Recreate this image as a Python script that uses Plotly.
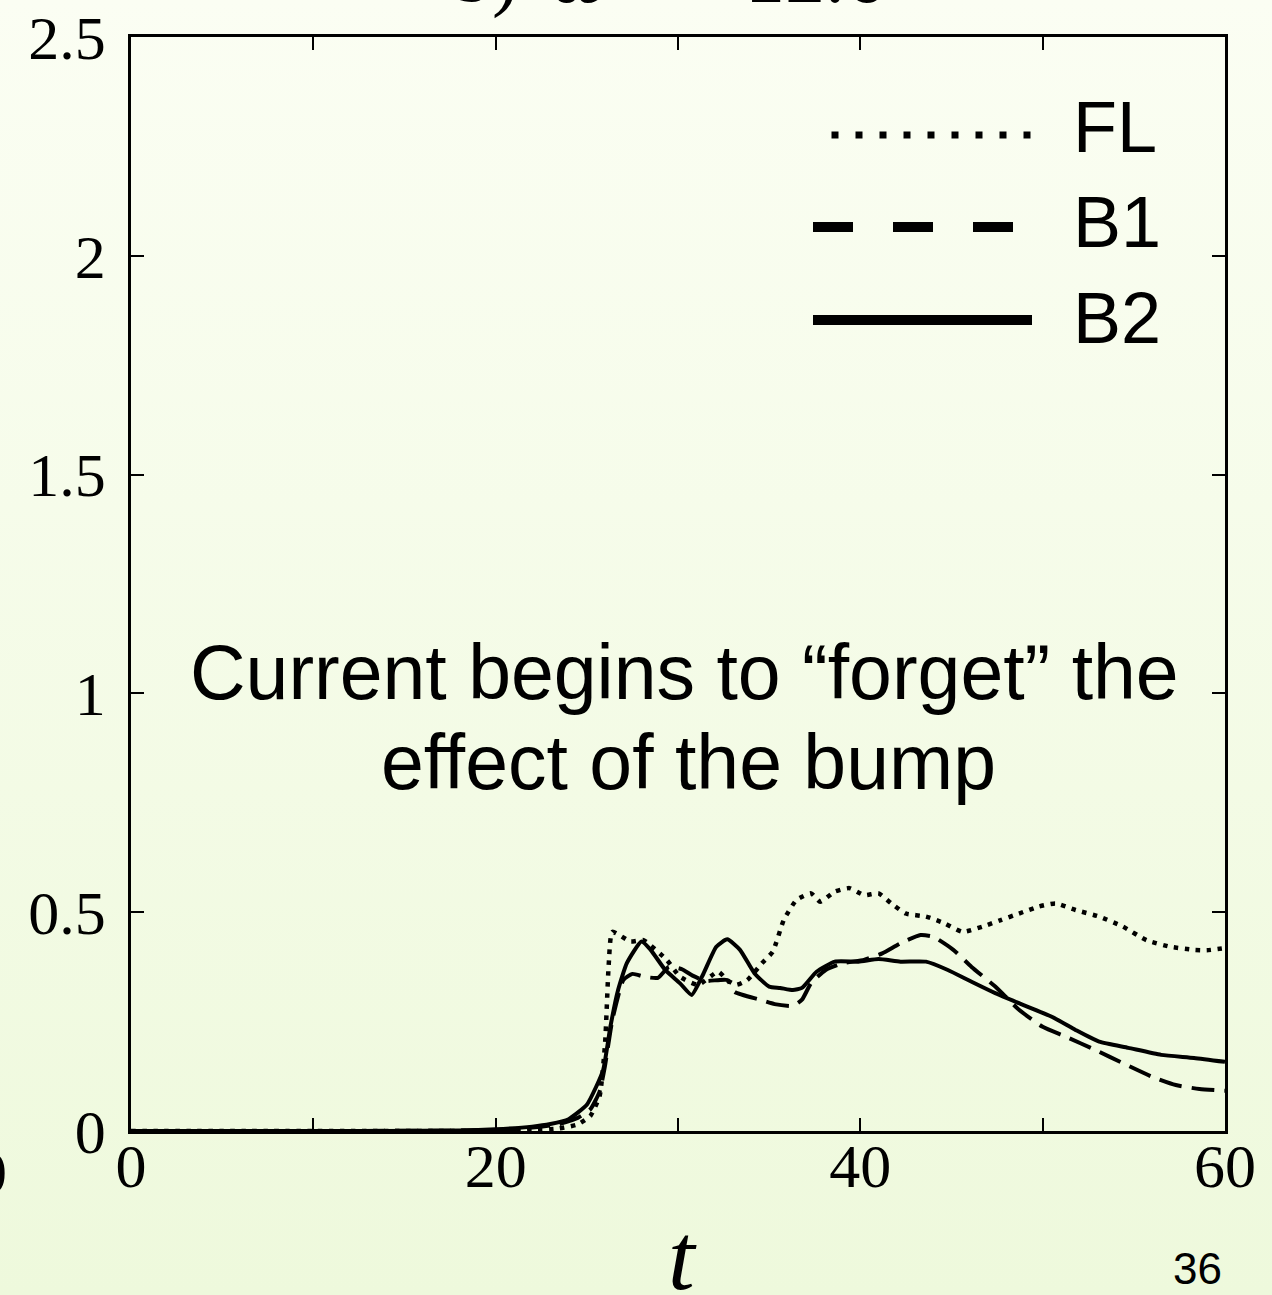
import base64
import plotly.graph_objects as go

# ---------------- data ----------------
t_fl = [0, 10, 20, 22, 23.5, 24.5, 25.2, 25.7, 26.0, 26.2, 26.4, 27.4, 28.1, 29.4, 30.1, 31.1,
        32.2, 32.7, 33.2, 33.8, 34.6, 35.2, 35.8, 36.5, 37.3, 37.8, 38.6, 39.4, 40.2, 41.0, 41.7,
        42.5, 43.6, 44.6, 45.6, 46.7, 47.7, 48.7, 49.8, 50.7, 51.8, 53.1, 54.4, 55.7, 57.0,
        58.3, 59.0, 60]
v_fl = [0, 0, 0, 0.002, 0.006, 0.015, 0.035, 0.08, 0.2, 0.38, 0.455, 0.433, 0.436, 0.39, 0.353, 0.334,
        0.364, 0.345, 0.334, 0.345, 0.383, 0.41, 0.482, 0.528, 0.543, 0.524, 0.547, 0.555, 0.539, 0.543, 0.52,
        0.497, 0.49, 0.475, 0.455, 0.467, 0.482, 0.497, 0.513, 0.52, 0.505, 0.49, 0.467, 0.436, 0.421,
        0.414, 0.413, 0.418]

t_b1 = [0, 10, 20, 22, 23.5, 24.5, 25.2, 25.7, 26.0, 26.4, 27.0, 27.5, 28.2, 28.9, 29.5, 30.2,
        30.8, 31.5, 32.7, 33.1, 34.5, 35.3, 36.3, 36.8, 37.3, 38.1, 39.1, 40.2, 41.2, 42.2, 43.3, 44.0,
        45.1, 46.1, 47.4, 48.7, 50.0, 51.3, 52.9, 54.4, 56.0, 57.3, 58.6, 60]
v_b1 = [0, 0, 0.002, 0.008, 0.016, 0.03, 0.05, 0.09, 0.15, 0.254, 0.345, 0.359, 0.352, 0.35, 0.375, 0.37,
        0.355, 0.343, 0.345, 0.318, 0.3, 0.29, 0.286, 0.3, 0.338, 0.368, 0.384, 0.391, 0.406, 0.429, 0.448, 0.444,
        0.414, 0.375, 0.33, 0.277, 0.238, 0.215, 0.185, 0.155, 0.124, 0.105, 0.096, 0.092]

t_b2 = [0, 10, 18, 20, 22, 23, 24, 25, 25.5, 25.9, 26.3, 26.7, 27.2, 28.0, 28.5, 29.3, 30.1, 30.75,
        31.4, 32.1, 32.7, 33.4, 34.2, 35.0, 35.6, 36.3, 36.8, 37.6, 38.6, 39.9, 41.0, 42.2, 43.6, 44.8,
        46.1, 47.4, 48.7, 50.5, 51.8, 53.1, 54.7, 56.5, 58.3, 60]
v_b2 = [0, 0, 0.001, 0.004, 0.01, 0.016, 0.027, 0.06, 0.1, 0.14, 0.24, 0.32, 0.384, 0.433, 0.414, 0.368,
        0.338, 0.311, 0.36, 0.421, 0.438, 0.414, 0.36, 0.33, 0.327, 0.322, 0.327, 0.364, 0.387, 0.387, 0.393,
        0.387, 0.387, 0.368, 0.341, 0.315, 0.292, 0.261, 0.231, 0.204, 0.19, 0.174, 0.167, 0.158]

x_tickvals = [0, 10, 20, 30, 40, 50, 60]
x_ticktext = ["0", "", "20", "", "40", "", "60"]
y_tickvals = [0, 0.5, 1, 1.5, 2, 2.5]
y_ticktext = ["0", "0.5", "1", "1.5", "2", "2.5"]

legend_names = ["FL", "B1", "B2"]
note_lines = ["Current begins to \u201cforget\u201d the", "effect of the bump"]
page_number = "36"

# ---------------- layout geometry ----------------
W, H = 1272, 1295
L, R, T, B = 131, 47, 37, 164
PW, PH = W - L - R, H - T - B


def px(x):
    return (x - L) / PW


def py(y):
    return (H - B - y) / PH


SERIF = "Liberation Serif, Times New Roman, serif"
SANS = "Liberation Sans, Arial, Helvetica, sans-serif"

fig = go.Figure()
fig.add_trace(go.Scatter(x=t_fl, y=v_fl, mode="lines", name=legend_names[0],
                         line=dict(color="black", width=4.5, dash="4.5px,6.5px", shape="spline", smoothing=0.5)))
fig.add_trace(go.Scatter(x=t_b1, y=v_b1, mode="lines", name=legend_names[1],
                         line=dict(color="black", width=4, dash="23px,10px", shape="spline", smoothing=0.5)))
fig.add_trace(go.Scatter(x=t_b2, y=v_b2, mode="lines", name=legend_names[2],
                         line=dict(color="black", width=4, shape="spline", smoothing=0.5)))

# background gradient
svg = ('<svg xmlns="http://www.w3.org/2000/svg" width="1272" height="1295" preserveAspectRatio="none">'
       '<defs><linearGradient id="g" x1="0" y1="0" x2="0" y2="1">'
       '<stop offset="0" stop-color="#FBFEF3"/><stop offset="1" stop-color="#EEF9DC"/>'
       '</linearGradient></defs><rect width="1272" height="1295" fill="url(#g)"/></svg>')
src = "data:image/svg+xml;base64," + base64.b64encode(svg.encode()).decode()

shapes = [
    dict(type="line", xref="paper", yref="paper", x0=px(831.5), x1=px(1031), y0=py(135), y1=py(135),
         line=dict(color="black", width=7, dash="7px,17px")),
    dict(type="line", xref="paper", yref="paper", x0=px(813), x1=px(1013), y0=py(227), y1=py(227),
         line=dict(color="black", width=10, dash="40px,40px")),
    dict(type="line", xref="paper", yref="paper", x0=px(813), x1=px(1032), y0=py(320), y1=py(320),
         line=dict(color="black", width=10)),
]

annotations = []
for name, yc in zip(legend_names, [127, 222, 318]):
    annotations.append(dict(text=name, xref="paper", yref="paper", x=px(1071), y=py(yc),
                            xanchor="left", yanchor="middle", showarrow=False,
                            font=dict(family=SANS, size=72, color="black")))
annotations.append(dict(text=note_lines[0], xref="paper", yref="paper", x=px(684), y=py(672),
                        xanchor="center", yanchor="middle", showarrow=False,
                        font=dict(family=SANS, size=77, color="black")))
annotations.append(dict(text=note_lines[1], xref="paper", yref="paper", x=px(688), y=py(762),
                        xanchor="center", yanchor="middle", showarrow=False,
                        font=dict(family=SANS, size=77, color="black")))
# axis title
annotations.append(dict(text="<i>t</i>", xref="paper", yref="paper", x=px(682), y=py(1257),
                        xanchor="center", yanchor="middle", showarrow=False,
                        font=dict(family=SERIF, size=96, color="black")))
# page number
annotations.append(dict(text=page_number, xref="paper", yref="paper", x=px(1197), y=py(1268),
                        xanchor="center", yanchor="middle", showarrow=False,
                        font=dict(family=SANS, size=44, color="black")))
# cut-off title at top of the slide
annotations.append(dict(text="b)", xref="paper", yref="paper", x=px(521), y=py(-25),
                        xanchor="right", yanchor="middle", showarrow=False,
                        font=dict(family=SERIF, size=80, color="black")))
annotations.append(dict(text="<i>\u03c9</i>", xref="paper", yref="paper", x=px(580), y=py(-25),
                        xanchor="center", yanchor="middle", showarrow=False,
                        font=dict(family=SERIF, size=80, color="black")))
annotations.append(dict(text="= 12.6", xref="paper", yref="paper", x=px(887), y=py(-25),
                        xanchor="right", yanchor="middle", showarrow=False,
                        font=dict(family=SERIF, size=80, color="black")))
# neighbouring panel's tick label, cut at the left edge
annotations.append(dict(text="0", xref="paper", yref="paper", x=px(-9), y=py(1172),
                        xanchor="center", yanchor="middle", showarrow=False,
                        font=dict(family=SERIF, size=62, color="black")))

fig.update_layout(
    width=W, height=H,
    margin=dict(l=L, r=R, t=T, b=B, pad=0, autoexpand=False),
    paper_bgcolor="#F4FBE8",
    plot_bgcolor="rgba(0,0,0,0)",
    showlegend=False,
    shapes=shapes,
    annotations=annotations,
    images=[dict(source=src, xref="paper", yref="paper", x=px(0), y=py(0),
                 sizex=W / PW, sizey=H / PH, xanchor="left", yanchor="top",
                 sizing="stretch", layer="below")],
    xaxis=dict(range=[0, 60], tickvals=x_tickvals, ticktext=x_ticktext, automargin=False,
               ticks="inside", ticklen=13, tickwidth=2, tickcolor="black",
               showline=True, linewidth=2.5, linecolor="black", mirror="allticks",
               showgrid=False, zeroline=False, ticklabelstandoff=-21,
               tickfont=dict(family=SERIF, size=62, color="black")),
    yaxis=dict(range=[0, 2.5], tickvals=y_tickvals, ticktext=y_ticktext, automargin=False,
               ticks="inside", ticklen=13, tickwidth=2, tickcolor="black",
               showline=True, linewidth=2.5, linecolor="black", mirror="allticks",
               showgrid=False, zeroline=False, ticklabelstandoff=10,
               tickfont=dict(family=SERIF, size=62, color="black")),
)

fig.write_html("out.html")
